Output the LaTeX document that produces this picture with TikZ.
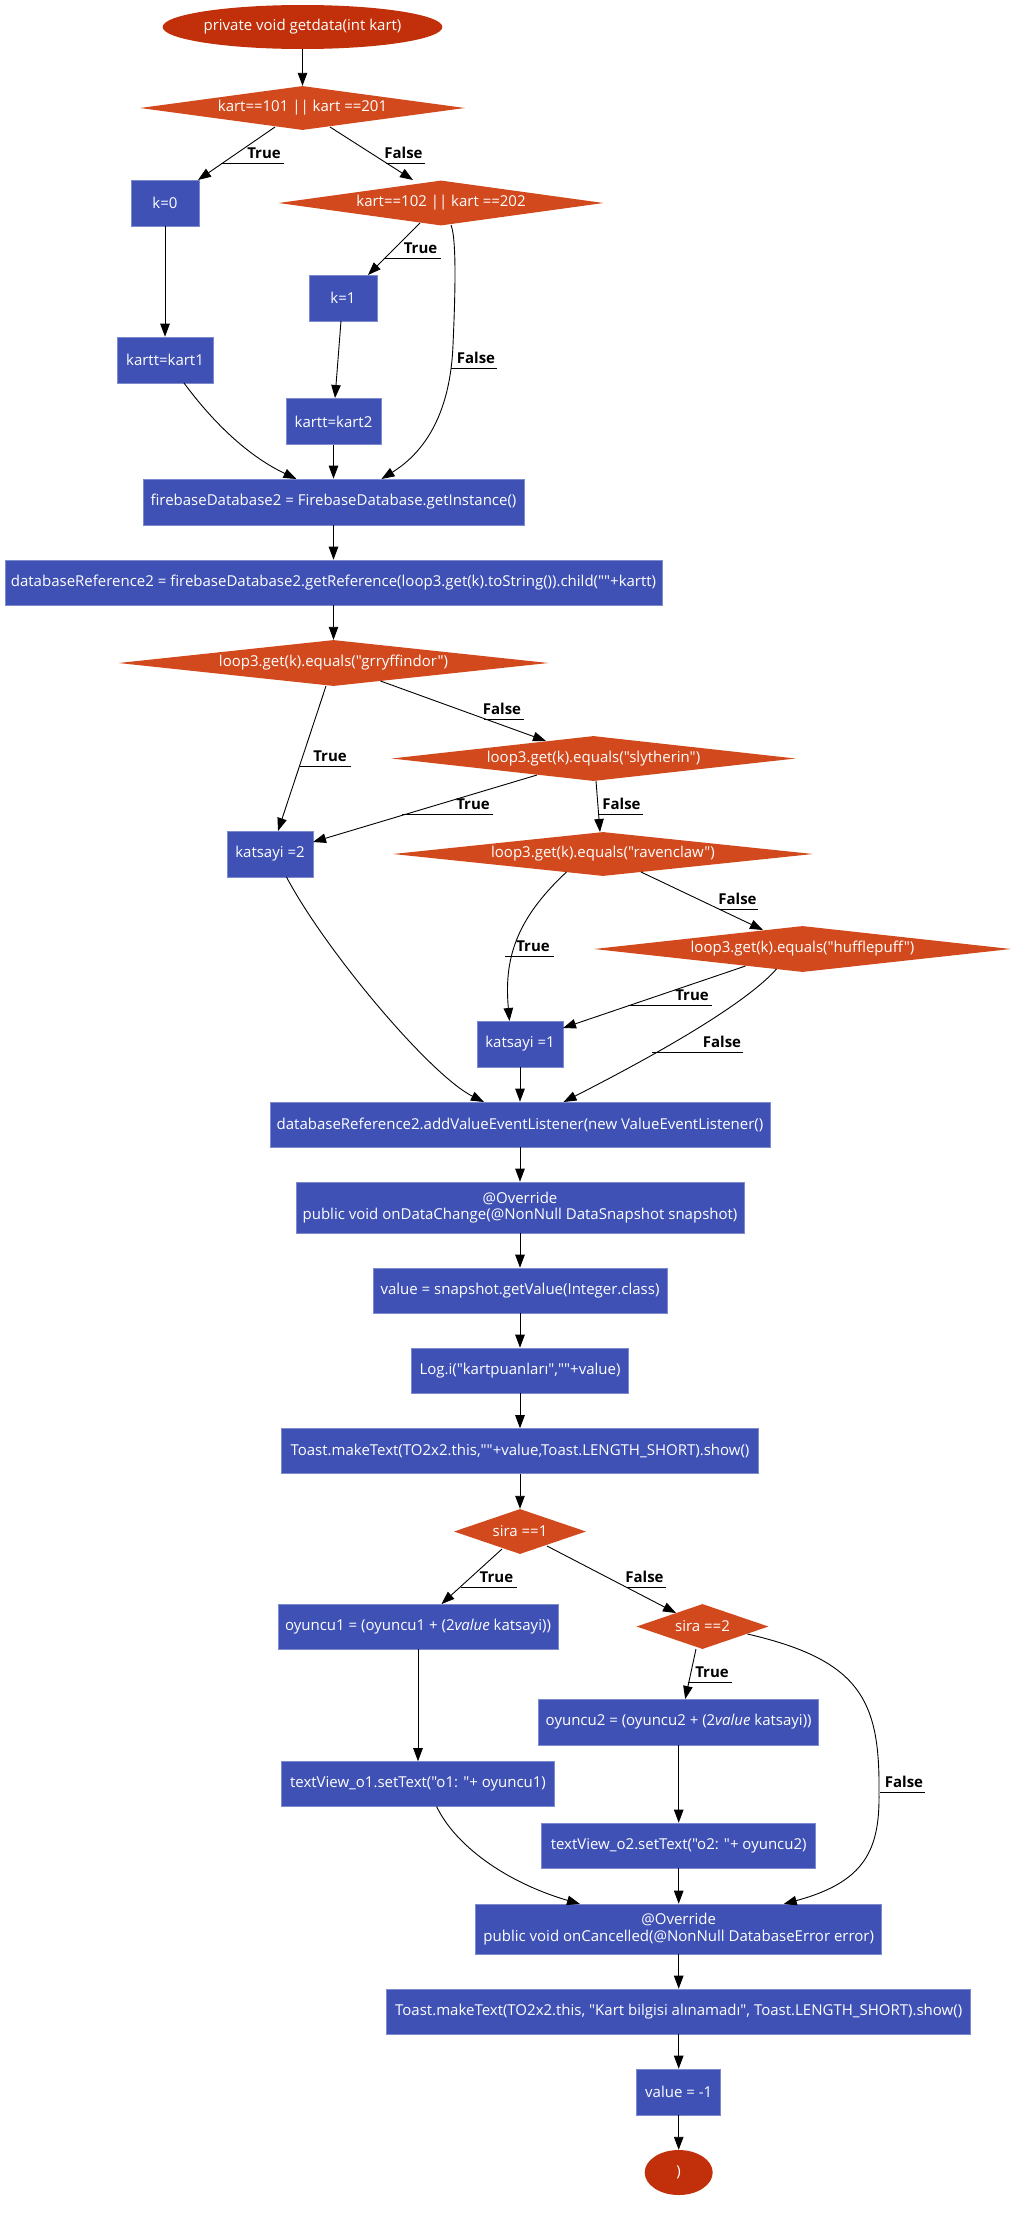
\documentclass[tikz,border=0pt]{standalone}
\usepackage{fontspec}
\setmainfont{Open Sans}
\newfontfamily\osans{Open Sans}
\usetikzlibrary{arrows.meta,shapes.geometric,calc}
\definecolor{boxblue}{RGB}{63,81,181}
\definecolor{boxedge}{RGB}{125,138,205}
\definecolor{decor}{RGB}{210,73,29}
\definecolor{termred}{RGB}{193,48,10}
\begin{document}
\begin{tikzpicture}[x=1pt,y=-1pt,
  every node/.style={font=\osans\fontsize{15}{16.5}\selectfont, text=white},
  proc/.style={rectangle, fill=boxblue, draw=boxedge, line width=0.6pt, inner sep=0pt, align=center, minimum height=45pt},
  cond/.style={diamond, fill=decor, draw=none, inner sep=0pt, minimum height=45pt},
  term/.style={ellipse, fill=termred, draw=none, inner sep=0pt},
  flow/.style={draw=black, line width=0.9pt, -{Triangle[length=13pt,width=9.5pt]}},
  lbl/.style={font=\osans\bfseries\fontsize{15}{16.5}\selectfont, text=black, inner sep=0pt, anchor=base},
  uline/.style={draw=black, line width=0.9pt}]

\useasboundingbox (0,0) rectangle (1031,2214);
\fill[white] (0,0) rectangle (1031,2214);

% ---- nodes ----
\node[term, minimum width=267pt, minimum height=44pt] (start) at (302.5,27) {private void getdata(int kart)};
\node[cond, minimum width=325pt, minimum height=44pt] (d1) at (302.5,108) {\makebox[0pt]{kart==101 || kart ==201}};
\node[proc, minimum width=68pt, minimum height=46pt] (k0) at (165,203) {k=0};
\node[cond, minimum width=325pt] (d2) at (441,203) {\makebox[0pt]{kart==102 || kart ==202}};
\node[proc, minimum width=68pt, minimum height=46pt] (k1) at (343,298) {k=1};
\node[proc, minimum width=96pt, minimum height=46pt] (kt1) at (165,360) {kartt=kart1};
\node[proc, minimum width=95pt, minimum height=46pt] (kt2) at (333.5,421.5) {kartt=kart2};
\node[proc, minimum width=381pt, minimum height=46pt] (fb) at (333.5,502) {firebaseDatabase2 = FirebaseDatabase.getInstance()};
\node[proc, minimum width=657pt] (dbr) at (333.5,582.5) {\makebox[0pt]{databaseReference2 = firebaseDatabase2.getReference(loop3.get(k).toString()).child(""+kartt)}};
\node[cond, minimum width=430pt, minimum height=46pt] (gry) at (333.5,663) {\makebox[0pt]{loop3.get(k).equals("grryffindor")}};
\node[cond, minimum width=404pt] (sly) at (593.5,758.5) {\makebox[0pt]{loop3.get(k).equals("slytherin")}};
\node[cond, minimum width=420pt, minimum height=44pt] (rav) at (603,854) {\makebox[0pt]{loop3.get(k).equals("ravenclaw")}};
\node[cond, minimum width=417pt, minimum height=46pt] (huf) at (802.5,949) {\makebox[0pt]{loop3.get(k).equals("hufflepuff")}};
\node[proc, minimum width=86pt, minimum height=46pt] (ks2) at (270,854) {katsayi =2};
\node[proc, minimum width=86pt, minimum height=46pt] (ks1) at (520,1044) {katsayi =1};
\node[proc, minimum width=500pt] (add) at (520,1124.5) {databaseReference2.addValueEventListener(new ValueEventListener()};
\node[proc, minimum width=448pt, minimum height=51pt] (odc) at (520,1207.5) {@Override\\public void onDataChange(@NonNull DataSnapshot snapshot)};
\node[proc, minimum width=294pt] (val) at (520,1290.5) {value = snapshot.getValue(Integer.class)};
\node[proc, minimum width=217pt] (log) at (520,1370.5) {Log.i("kartpuanları",""+value)};
\node[proc, minimum width=477pt] (tst) at (520,1451) {Toast.makeText(TO2x2.this,""+value,Toast.LENGTH\_SHORT).show()};
\node[cond, minimum width=132pt] (s1) at (520,1531.5) {\makebox[0pt]{sira ==1}};
\node[proc, minimum width=280pt] (o1) at (418,1626.5) {oyuncu1 = (oyuncu1 + (2\textit{value} katsayi))};
\node[cond, minimum width=132pt] (s2) at (702.5,1626.5) {\makebox[0pt]{sira ==2}};
\node[proc, minimum width=280pt, minimum height=46pt] (o2) at (678.7,1722) {oyuncu2 = (oyuncu2 + (2\textit{value} katsayi))};
\node[proc, minimum width=273pt] (tv1) at (418,1784) {textView\_o1.setText("o1: "+ oyuncu1)};
\node[proc, minimum width=274pt] (tv2) at (678.7,1845.5) {textView\_o2.setText("o2: "+ oyuncu2)};
\node[proc, minimum width=406pt, minimum height=50pt] (onc) at (678.7,1929) {@Override\\public void onCancelled(@NonNull DatabaseError error)};
\node[proc, minimum width=584pt] (tst2) at (678.7,2011.5) {Toast.makeText(TO2x2.this, "Kart bilgisi alınamadı", Toast.LENGTH\_SHORT).show()};
\node[proc, minimum width=84pt, minimum height=46pt] (vm1) at (678.7,2092) {value = -1};
\node[term, minimum width=68pt, minimum height=45pt] (end) at (678.7,2172.5) {)};

% ---- connectors ----
\draw[flow] (start) -- (d1);
\draw[flow] ($(d1)+(-27.5,19)$) -- ($(k0)+(33,-23)$);
\draw[flow] ($(d1)+(27.5,19)$) -- ($(d2)+(-28,-23)$);
\draw[flow] ($(d2)+(-21,20)$) -- ($(k1)+(25,-23)$);
\draw[flow] ($(d2)+(10,22)$) .. controls (457,240) and (455,300) .. (453,345) .. controls (450,420) and (420,455) .. ($(fb)+(48,-23)$);
\draw[flow] (k0) -- (kt1);
\draw[flow] ($(k1)+(-2,23)$) -- ($(kt2)+(1.5,-23.5)$);
\draw[flow] ($(kt1)+(19,23)$) .. controls (215,425) and (250,457) .. ($(fb)+(-37,-23)$);
\draw[flow] (kt2) -- (fb);
\draw[flow] (fb) -- (dbr);
\draw[flow] (dbr) -- (gry);
\draw[flow] ($(gry)+(-7.5,23)$) -- ($(ks2)+(8,-23)$);
\draw[flow] ($(gry)+(47,18)$) -- ($(sly)+(-47.5,-17.5)$);
\draw[flow] ($(sly)+(-56.5,16.5)$) -- ($(ks2)+(43,-12)$);
\draw[flow] ($(sly)+(2.5,22.5)$) -- ($(rav)+(-3,-22)$);
\draw[flow] ($(rav)+(-36.5,18)$) .. controls (515,920) and (504,960) .. ($(ks1)+(-10.5,-23)$);
\draw[flow] ($(rav)+(38,18)$) -- ($(huf)+(-39.5,-19)$);
\draw[flow] ($(huf)+(-57,17)$) -- ($(ks1)+(43,-16)$);
\draw[flow] ($(huf)+(-26,20)$) .. controls (740,1010) and (630,1068) .. ($(add)+(43.5,-22.5)$);
\draw[flow] ($(ks2)+(16.5,23)$) .. controls (325,950) and (430,1075) .. ($(add)+(-36,-22.5)$);
\draw[flow] (ks1) -- (add);
\draw[flow] (add) -- (odc);
\draw[flow] (odc) -- (val);
\draw[flow] (val) -- (log);
\draw[flow] (log) -- (tst);
\draw[flow] (tst) -- (s1);
\draw[flow] ($(s1)+(-18,17.5)$) -- ($(o1)+(23.5,-22.5)$);
\draw[flow] ($(s1)+(27,14.5)$) -- ($(s2)+(-26.5,-13.5)$);
\draw[flow] ($(s2)+(-6.5,22.5)$) -- ($(o2)+(6.5,-23)$);
\draw[flow] ($(s2)+(45,7.5)$) .. controls (860,1660) and (880,1700) .. (879,1792) .. controls (880,1850) and (865,1882) .. ($(onc)+(105,-25)$);
\draw[flow] (o1) -- (tv1);
\draw[flow] (o2) -- (tv2);
\draw[flow] ($(tv1)+(18.6,22.5)$) .. controls (455,1845) and (505,1882) .. ($(onc)+(-98.7,-25)$);
\draw[flow] (tv2) -- (onc);
\draw[flow] (onc) -- (tst2);
\draw[flow] (tst2) -- (vm1);
\draw[flow] (vm1) -- (end);

% ---- edge labels with underline ----
\node[lbl] (l1) at (264,158) {True};
\draw[uline] ($(l1.base)+(20,5)$) -- ($(l1.base)+(-43,5)$);
\node[lbl] (l2) at (403.5,158) {False};
\draw[uline] ($(l2.base)+(21.5,5)$) -- ($(l2.base)+(-18,5)$);
\node[lbl] (l3) at (420.5,253.5) {True};
\draw[uline] ($(l3.base)+(20.5,4.5)$) -- ($(l3.base)+(-36.5,4.5)$);
\node[lbl] (l4) at (476,363) {False};
\draw[uline] ($(l4.base)+(21,5)$) -- ($(l4.base)+(-25,5)$);
\node[lbl] (l5) at (330,761.7) {True};
\draw[uline] ($(l5.base)+(21,5)$) -- ($(l5.base)+(-30.5,5)$);
\node[lbl] (l6) at (502,714) {False};
\draw[uline] ($(l6.base)+(21.7,5)$) -- ($(l6.base)+(-18,5)$);
\node[lbl] (l7) at (473,809) {True};
\draw[uline] ($(l7.base)+(20,5)$) -- ($(l7.base)+(-71,5)$);
\node[lbl] (l8) at (621.5,809) {False};
\draw[uline] ($(l8.base)+(21.5,5)$) -- ($(l8.base)+(-22.5,5)$);
\node[lbl] (l9) at (533,951.7) {True};
\draw[uline] ($(l9.base)+(20.6,5)$) -- ($(l9.base)+(-28,5)$);
\node[lbl] (l10) at (737.5,904) {False};
\draw[uline] ($(l10.base)+(20.5,5)$) -- ($(l10.base)+(-18.5,5)$);
\node[lbl] (l11) at (692,1000) {True};
\draw[uline] ($(l11.base)+(19.5,5)$) -- ($(l11.base)+(-64,5)$);
\node[lbl] (l12) at (722,1047) {False};
\draw[uline] ($(l12.base)+(20.6,5)$) -- ($(l12.base)+(-70.4,5)$);
\node[lbl] (l13) at (496.4,1582) {True};
\draw[uline] ($(l13.base)+(20.6,5)$) -- ($(l13.base)+(-35.4,5)$);
\node[lbl] (l14) at (644.5,1582) {False};
\draw[uline] ($(l14.base)+(21.9,5)$) -- ($(l14.base)+(-17.9,5)$);
\node[lbl] (l15) at (712,1677) {True};
\draw[uline] ($(l15.base)+(19.6,5)$) -- ($(l15.base)+(-24,5)$);
\node[lbl] (l16) at (904,1787) {False};
\draw[uline] ($(l16.base)+(21,5)$) -- ($(l16.base)+(-24,5)$);
\end{tikzpicture}
\end{document}
